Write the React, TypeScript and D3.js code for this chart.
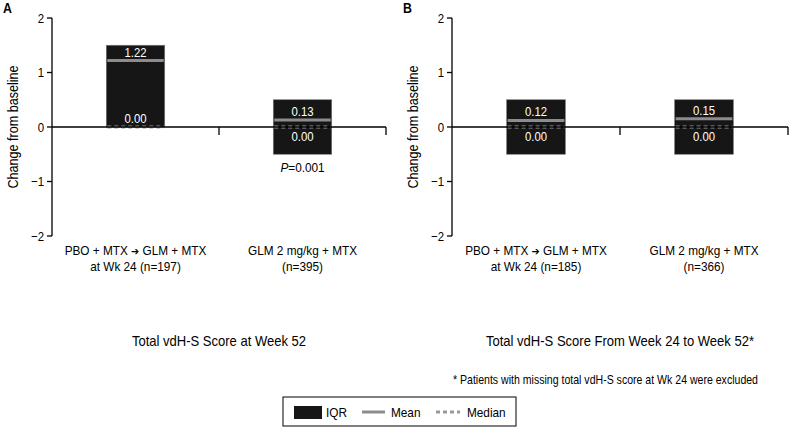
import React from "react";
import * as d3 from "d3";

const panelLetters = ["A", "B"];
const panelTitles = ["Total vdH-S Score at Week 52", "Total vdH-S Score From Week 24 to Week 52*"];
const categoriesA = [["PBO + MTX", "GLM + MTX", "at Wk 24 (n=197)"], ["GLM 2 mg/kg + MTX", "", "(n=395)"]];
const categoriesB = [["PBO + MTX", "GLM + MTX", "at Wk 24 (n=185)"], ["GLM 2 mg/kg + MTX", "", "(n=366)"]];
const q1A = [0, -0.5];
const q3A = [1.5, 0.5];
const meanA = [1.22, 0.13];
const medianA = [0, 0];
const q1B = [-0.5, -0.5];
const q3B = [0.5, 0.5];
const meanB = [0.12, 0.15];
const medianB = [0, 0];
const pValuesA = ["", "0.001"];
const pValuesB = ["", ""];
const yTicks = [2, 1, 0, -1, -2];
const yTitle = "Change from baseline";
const footnote = "* Patients with missing total vdH-S score at Wk 24 were excluded";
const legendItems = ["IQR", "Mean", "Median"];

const FONT = "'Liberation Sans', Arial, sans-serif";
const SX = 0.88;
const BOX = "#161616";
const MEAN_C = "#8c8c8c";
const MED_C = "#9a9a9a";

function T({ x, y, anchor = "start", size = 13, fill = "#000", rotate = 0, children, dy, weight }: any) {
  return (
    <text
      transform={`translate(${x},${y})${rotate ? ` rotate(${rotate})` : ""} scale(${SX},1)`}
      textAnchor={anchor}
      fontSize={size}
      fill={fill}
      dy={dy}
      fontWeight={weight}
      fontFamily={FONT}
    >
      {children}
    </text>
  );
}

function Panel({ x0, x1, letter, title, cats, q1, q3, mean, median, pv }: any) {
  const y = d3.scaleLinear().domain([-2, 2]).range([236, 18]);
  const x = d3.scaleBand().domain(cats.map((_: any, i: number) => String(i))).range([x0, x1]);
  const bw = x.bandwidth() * 0.35;
  const fmt = d3.format(".2f");
  return (
    <g>
      <T x={x0 - 49} y={13} size={14} weight="bold">{letter}</T>
      <line x1={x0} x2={x0} y1={y(2)} y2={y(-2)} stroke="#000" strokeWidth={1.3} />
      {yTicks.map((t) => (
        <g key={t}>
          <line x1={x0 - 5} x2={x0} y1={y(t)} y2={y(t)} stroke="#000" strokeWidth={1.3} />
          <T x={x0 - 8} y={y(t)} dy="0.36em" anchor="end" size={13}>{t < 0 ? "\u2212" + Math.abs(t) : String(t)}</T>
        </g>
      ))}
      <T x={x0 - 39} y={y(0)} rotate={-90} anchor="middle" size={14.3} dy="0.35em">{yTitle}</T>
      {cats.map((c: string[], i: number) => {
        const cx = x(String(i))! + x.bandwidth() / 2;
        const bx = cx - bw / 2;
        const above = mean[i] - median[i] > 0.3;
        return (
          <g key={i}>
            <rect x={bx} y={y(q3[i])} width={bw} height={y(q1[i]) - y(q3[i])} fill={BOX} stroke="#777" strokeWidth={0.6} />
            <line x1={bx + 1} x2={bx + bw - 1} y1={y(mean[i])} y2={y(mean[i])} stroke={MEAN_C} strokeWidth={3} />
            <T x={cx} y={y(mean[i]) - 4} anchor="middle" fill="#fff" size={12.9}>{fmt(mean[i])}</T>
            <T x={cx} y={above ? y(median[i]) - 4 : y(median[i]) + 14} anchor="middle" fill="#fff" size={12.9}>{fmt(median[i])}</T>
            {pv[i] ? (
              <T x={cx} y={y(q1[i]) + 18} anchor="middle" size={13.4}>
                <tspan fontStyle="italic">P</tspan>={pv[i]}
              </T>
            ) : null}
            <T x={cx} y={255} anchor="middle" size={13.4}>
              {c[0]}
              {c[1] ? (
                <>
                  {" "}
                  <tspan fontFamily="'DejaVu Sans', sans-serif" fontSize={11}>{"\u2794"}</tspan>
                  {" " + c[1]}
                </>
              ) : null}
            </T>
            <T x={cx} y={271} anchor="middle" size={13.4}>{c[2]}</T>
          </g>
        );
      })}
      {cats.map((_: any, i: number) => {
        const cx = x(String(i))! + x.bandwidth() / 2;
        const bx = cx - bw / 2;
        return (
          <line key={"m" + i} x1={bx + 1} x2={bx + bw - 1} y1={y(median[i])} y2={y(median[i])} stroke={MED_C} strokeWidth={3} strokeDasharray="4,3" />
        );
      })}
      <line x1={x0} x2={x1} y1={y(0)} y2={y(0)} stroke="#000" strokeWidth={1.3} />
      {cats.map((_: any, i: number) => {
        const bx = x(String(i))! + x.bandwidth();
        return <line key={"t" + i} x1={bx} x2={bx} y1={y(0)} y2={y(0) + 8} stroke="#000" strokeWidth={1.3} />;
      })}
      <T x={(x0 + x1) / 2} y={346} anchor="middle" size={14.8}>{title}</T>
    </g>
  );
}

export default function App() {
  return (
    <svg width={790} height={435} style={{ position: "absolute", left: 0, top: 0, background: "#fff" }}>
      <rect width={790} height={435} fill="#fff" />
      <Panel x0={52} x1={386} letter={panelLetters[0]} title={panelTitles[0]} cats={categoriesA} q1={q1A} q3={q3A} mean={meanA} median={medianA} pv={pValuesA} />
      <Panel x0={452} x1={788} letter={panelLetters[1]} title={panelTitles[1]} cats={categoriesB} q1={q1B} q3={q3B} mean={meanB} median={medianB} pv={pValuesB} />
      <T x={758} y={384} anchor="end" size={12}>{footnote}</T>
      <g>
        <rect x={283} y={397} width={233} height={29} fill="#fff" stroke="#000" strokeWidth={1} />
        <rect x={294} y={406} width={28} height={13} fill={BOX} />
        <T x={326} y={417} size={13.4}>{legendItems[0]}</T>
        <line x1={362} x2={385} y1={412} y2={412} stroke={MEAN_C} strokeWidth={3} />
        <T x={391} y={417} size={13.4}>{legendItems[1]}</T>
        <line x1={436} x2={460} y1={412} y2={412} stroke={MED_C} strokeWidth={3} strokeDasharray="4,3" />
        <T x={467} y={417} size={13.4}>{legendItems[2]}</T>
      </g>
    </svg>
  );
}
